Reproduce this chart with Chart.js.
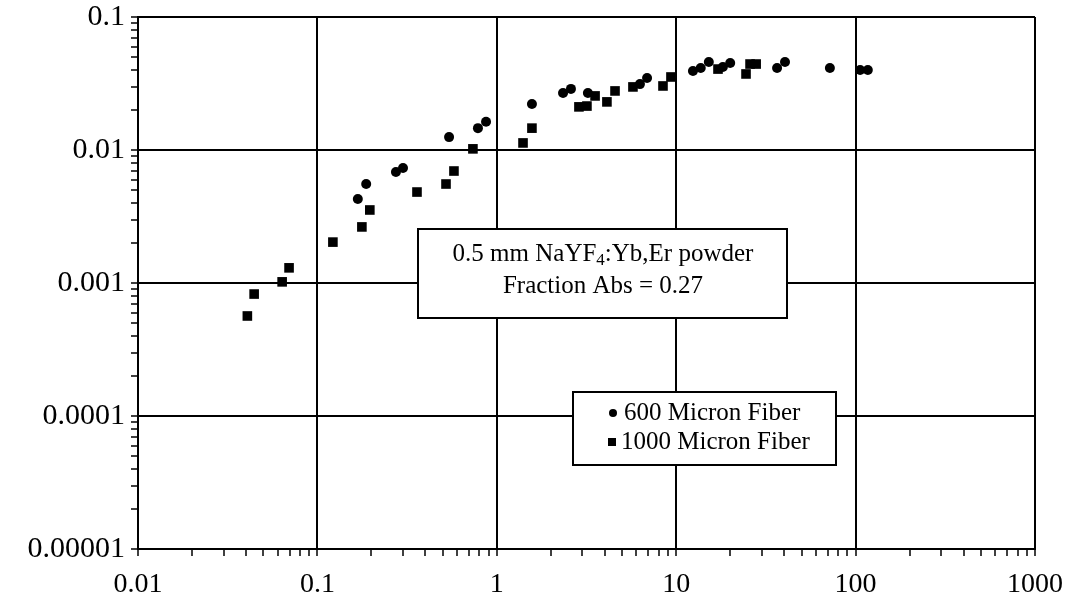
<!DOCTYPE html>
<html>
<head>
<meta charset="utf-8">
<script src="https://cdn.jsdelivr.net/npm/chart.js@4.4.0/dist/chart.umd.min.js"></script>
<style>
html, body { margin: 0; padding: 0; background: #fff; }
#wrap { width: 1069px; height: 615px; position: relative; }
</style>
</head>
<body>
<div id="wrap"><canvas id="chart"></canvas></div>
<script>
// 600 micron fiber (circles)
var fiber600X = [0.168, 0.187, 0.274, 0.300, 0.542, 0.785, 0.871, 1.57, 2.34, 2.59, 3.22, 6.28, 6.88, 12.4, 13.7, 15.2, 18.2, 20.0, 36.5, 40.4, 71.9, 106, 117];
var fiber600Y = [0.00428, 0.00555, 0.00684, 0.00733, 0.0125, 0.0146, 0.0163, 0.0222, 0.0268, 0.0288, 0.0268, 0.0313, 0.0348, 0.0393, 0.0414, 0.0459, 0.0421, 0.0451, 0.0414, 0.0459, 0.0414, 0.0400, 0.0400];

// 1000 micron fiber (squares)
var fiber1000X = [0.0407, 0.0444, 0.0636, 0.0695, 0.122, 0.177, 0.196, 0.359, 0.521, 0.577, 0.736, 1.40, 1.57, 2.87, 3.18, 3.53, 4.11, 4.56, 5.74, 8.44, 9.35, 17.1, 24.5, 25.8, 27.9];
var fiber1000Y = [0.000565, 0.000826, 0.00102, 0.00130, 0.00203, 0.00264, 0.00354, 0.00483, 0.00555, 0.00695, 0.0102, 0.0113, 0.0146, 0.0211, 0.0214, 0.0255, 0.0230, 0.0278, 0.0298, 0.0303, 0.0354, 0.0406, 0.0373, 0.0443, 0.0443];

var xTickLabels = [0.01, 0.1, 1, 10, 100, 1000];
var yTickLabels = [0.00001, 0.0001, 0.001, 0.01, 0.1];

var seriesNames = ['600 Micron Fiber', '1000 Micron Fiber'];
var noteLines = ['0.5 mm NaYF', '4', ':Yb,Er powder', 'Fraction Abs = 0.27'];

function toPoints(xs, ys) {
    var pts = [];
    for (var i = 0; i < xs.length; i++) pts.push({x: xs[i], y: ys[i]});
    return pts;
}

// decades plus 2..9 minor ticks
function logTicks(majors) {
    var t = [];
    for (var i = 0; i < majors.length; i++) {
        t.push({value: majors[i], major: true});
        if (i < majors.length - 1) {
            for (var m = 2; m <= 9; m++) t.push({value: majors[i] * m, major: false});
        }
    }
    return t;
}

function isMajor(v) {
    var l = Math.log10(v);
    return Math.abs(l - Math.round(l)) < 1e-6;
}

function labelFor(list) {
    return function (value) {
        for (var i = 0; i < list.length; i++) {
            if (Math.abs(Math.log10(value) - Math.log10(list[i])) < 1e-6) return String(list[i]);
        }
        return '';
    };
}

var serif = "'Liberation Serif', 'Times New Roman', serif";

// text boxes drawn over the plot
var boxesPlugin = {
    id: 'boxes',
    afterDatasetsDraw: function (chart) {
        var ctx = chart.ctx;
        ctx.save();
        ctx.lineWidth = 2;
        ctx.strokeStyle = '#000';
        ctx.fillStyle = '#fff';

        // note box
        ctx.fillRect(418, 229, 369, 89);
        ctx.strokeRect(418, 229, 369, 89);
        ctx.fillStyle = '#000';
        ctx.textBaseline = 'middle';
        ctx.font = '25px ' + serif;
        var w1 = ctx.measureText(noteLines[0]).width;
        ctx.font = '17px ' + serif;
        var w2 = ctx.measureText(noteLines[1]).width;
        ctx.font = '25px ' + serif;
        var w3 = ctx.measureText(noteLines[2]).width;
        var cx = 603;
        var sx = cx - (w1 + w2 + w3) / 2;
        ctx.textAlign = 'left';
        ctx.fillText(noteLines[0], sx, 254);
        ctx.font = '17px ' + serif;
        ctx.fillText(noteLines[1], sx + w1, 261);
        ctx.font = '25px ' + serif;
        ctx.fillText(noteLines[2], sx + w1 + w2, 254);
        ctx.textAlign = 'center';
        ctx.fillText(noteLines[3], cx, 286);

        // legend box
        ctx.fillStyle = '#fff';
        ctx.fillRect(573, 392, 263, 73);
        ctx.strokeRect(573, 392, 263, 73);
        ctx.fillStyle = '#000';
        ctx.beginPath();
        ctx.arc(613, 413, 4, 0, Math.PI * 2);
        ctx.fill();
        ctx.fillRect(608, 438, 8, 8);
        ctx.textAlign = 'left';
        ctx.font = '25px ' + serif;
        ctx.fillText(seriesNames[0], 624, 413);
        ctx.fillText(seriesNames[1], 621, 442);
        ctx.restore();
    }
};

var gridColor = function (c) { return c.tick && isMajor(c.tick.value) ? '#000' : 'rgba(0,0,0,0)'; };

var chart = new Chart(document.getElementById('chart'), {
    type: 'scatter',
    data: {
        datasets: [{
            label: seriesNames[0],
            data: toPoints(fiber600X, fiber600Y),
            pointStyle: 'circle',
            pointRadius: 5,
            backgroundColor: '#000',
            borderColor: '#000',
            borderWidth: 0
        }, {
            label: seriesNames[1],
            data: toPoints(fiber1000X, fiber1000Y),
            pointStyle: 'rect',
            pointRadius: 6.8,
            backgroundColor: '#000',
            borderColor: '#000',
            borderWidth: 0
        }]
    },
    options: {
        responsive: true,
        maintainAspectRatio: false,
        animation: false,
        devicePixelRatio: 1,
        layout: {padding: {top: 17, right: 34, left: 0, bottom: 0}},
        plugins: {
            legend: {display: false},
            tooltip: {enabled: false}
        },
        scales: {
            x: {
                type: 'logarithmic',
                min: 0.01,
                max: 1000,
                afterBuildTicks: function (s) { s.ticks = logTicks(xTickLabels); },
                afterFit: function (s) { s.height = 66; s.paddingLeft = 0; s.paddingRight = 0; },
                border: {color: '#000', width: 2},
                grid: {color: gridColor, lineWidth: 2, tickColor: '#000', tickLength: 7, tickWidth: 1.5},
                ticks: {
                    autoSkip: false,
                    maxRotation: 0,
                    padding: 12,
                    color: '#000',
                    font: {family: serif, size: 28},
                    callback: labelFor(xTickLabels)
                }
            },
            y: {
                type: 'logarithmic',
                min: 0.00001,
                max: 0.1,
                afterBuildTicks: function (s) { s.ticks = logTicks(yTickLabels); },
                afterFit: function (s) { s.width = 138; s.paddingTop = 0; s.paddingBottom = 0; },
                border: {color: '#000', width: 2},
                grid: {color: gridColor, lineWidth: 2, tickColor: '#000', tickLength: 7, tickWidth: 1.5},
                ticks: {
                    autoSkip: false,
                    padding: 6,
                    color: '#000',
                    font: {family: serif, size: 30},
                    callback: labelFor(yTickLabels)
                }
            }
        }
    },
    plugins: [boxesPlugin]
});
</script>
</body>
</html>
